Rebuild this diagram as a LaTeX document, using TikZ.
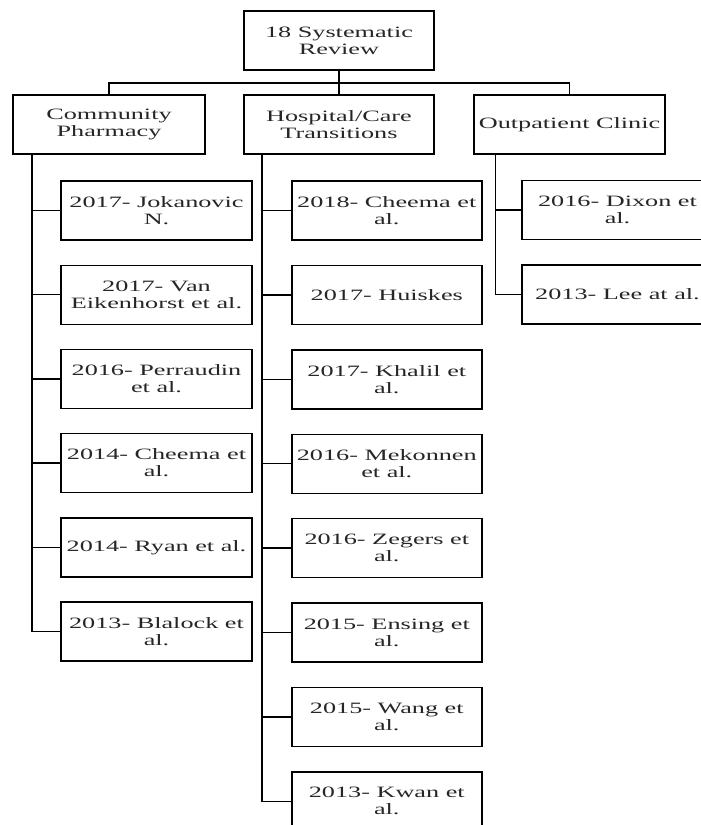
\documentclass[tikz,border=0pt]{standalone}
\usepackage{fontspec}
\setmainfont{Liberation Serif}[FakeStretch=1.66]
\begin{document}
\begin{tikzpicture}[x=1pt,y=-1pt,
  box/.style={draw=black, line width=1.4pt, minimum width=191pt, minimum height=59pt,
    inner sep=0pt, align=center, font=\fontsize{15.8}{17}\selectfont, text=black!85},
  conn/.style={draw=black, line width=1.4pt}]
\useasboundingbox (0,0) rectangle (701,825);
\clip (0,0) rectangle (701,825);
% root and level 1
\node[box, minimum width=190pt] (root) at (339,40.5) {18 Systematic\\Review};
\node[box, minimum width=192pt] (cp) at (109,124.5) {Community\\Pharmacy};
\node[box, minimum width=190pt] (hc) at (339,124.5) {Hospital/Care\\Transitions};
\node[box] (oc) at (569.5,124.5) {Outpatient Clinic};
\coordinate (bus) at (339,83);
\draw[conn] (root.south) -- (bus);
\draw[conn] (cp.north) |- (bus) -| (oc.north);
\draw[conn] (bus) -- (hc.north);
% community pharmacy
\foreach \i/\t in {1/{2017- Jokanovic\\N.},2/{2017- Van\\Eikenhorst et al.},3/{2016- Perraudin\\et al.},4/{2014- Cheema et\\al.},5/{2014- Ryan et al.},6/{2013- Blalock et\\al.}}{
  \node[box] (c\i) at (156.5,{210.5+(\i-1)*84.2}) {\t};
}
\coordinate (cpt) at (32,154);
\draw[conn] (cpt) |- (c6.west);
\foreach \i in {1,...,5}{\draw[conn] (cpt |- c\i.west) -- (c\i.west);}
% hospital / care transitions
\foreach \i/\t in {1/{2018- Cheema et\\al.},2/{2017- Huiskes},3/{2017- Khalil et\\al.},4/{2016- Mekonnen\\et al.},5/{2016- Zegers et\\al.},6/{2015- Ensing et\\al.},7/{2015- Wang et\\al.},8/{2013- Kwan et\\al.}}{
  \node[box, minimum width=190pt] (h\i) at (386.8,{210.5+(\i-1)*84.4}) {\t};
}
\coordinate (hct) at (262,154);
\draw[conn] (hct) |- (h8.west);
\foreach \i in {1,...,7}{\draw[conn] (hct |- h\i.west) -- (h\i.west);}
% outpatient clinic
\node[box] (o1) at (617.5,210) {2016- Dixon et\\al.};
\node[box] (o2) at (617.5,294.5) {2013- Lee at al.};
\coordinate (oct) at (495.7,154);
\draw[conn] (oct) |- (o2.west);
\draw[conn] (oct |- o1.west) -- (o1.west);
\end{tikzpicture}
\end{document}
